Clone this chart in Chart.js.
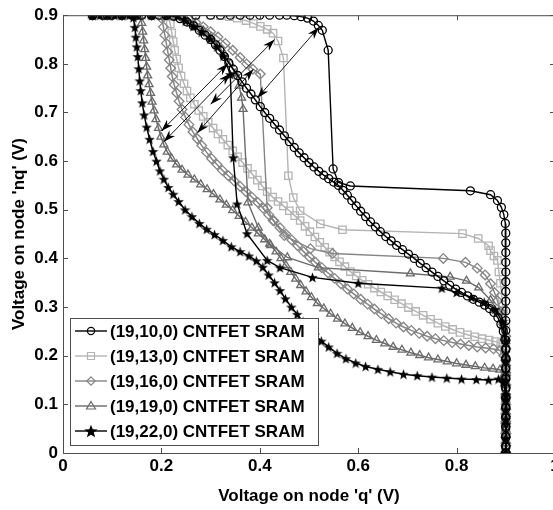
<!DOCTYPE html>
<html>
<head>
<meta charset="utf-8">
<script src="https://cdn.jsdelivr.net/npm/chart.js@4.4.0/dist/chart.umd.min.js"></script>
<style>
  html, body { margin: 0; padding: 0; background: #fff; overflow: hidden; }
  canvas { display: block; }
</style>
</head>
<body>
<canvas id="snm-chart" width="575" height="510"></canvas>
<script>
var seriesNames = ['(19,10,0) CNTFET SRAM', '(19,13,0) CNTFET SRAM', '(19,16,0) CNTFET SRAM', '(19,19,0) CNTFET SRAM', '(19,22,0) CNTFET SRAM'];
var xTicks = [0, 0.2, 0.4, 0.6, 0.8, 1];
var yTicks = [0, 0.1, 0.2, 0.3, 0.4, 0.5, 0.6, 0.7, 0.8, 0.9];

// butterfly curves, [q, nq] pairs
var c10Smooth = [[0.06,0.9],[0.08,0.9],[0.1,0.9],[0.12,0.9],[0.14,0.9],[0.16,0.9],[0.18,0.9],[0.195,0.9],[0.21,0.9],[0.225,0.898],[0.238,0.893],[0.252,0.886],[0.265,0.878],[0.277,0.869],[0.289,0.859],[0.3,0.85],[0.31,0.839],[0.319,0.828],[0.328,0.815],[0.337,0.802],[0.346,0.789],[0.355,0.776],[0.364,0.763],[0.373,0.75],[0.382,0.738],[0.391,0.726],[0.401,0.712],[0.41,0.7],[0.42,0.688],[0.43,0.676],[0.44,0.664],[0.45,0.652],[0.46,0.64],[0.47,0.628],[0.48,0.617],[0.49,0.607],[0.5,0.597],[0.51,0.588],[0.52,0.579],[0.53,0.571],[0.54,0.564],[0.55,0.557],[0.56,0.55],[0.569,0.54],[0.578,0.53],[0.587,0.519],[0.596,0.508],[0.605,0.497],[0.615,0.486],[0.625,0.475],[0.635,0.465],[0.645,0.455],[0.656,0.445],[0.667,0.436],[0.678,0.427],[0.69,0.418],[0.702,0.409],[0.714,0.4],[0.726,0.39],[0.738,0.381],[0.75,0.372],[0.762,0.363],[0.774,0.354],[0.786,0.345],[0.798,0.337],[0.81,0.33],[0.822,0.323],[0.834,0.316],[0.846,0.31],[0.857,0.304],[0.867,0.297],[0.876,0.289],[0.884,0.278],[0.89,0.265],[0.895,0.25],[0.898,0.233],[0.9,0.215],[0.9,0.195],[0.9,0.175],[0.9,0.155],[0.9,0.135],[0.9,0.115],[0.9,0.095],[0.9,0.075],[0.9,0.055],[0.9,0.035],[0.9,0.015],[0.9,0]];
var c10Sharp = [[0.06,0.9],[0.09,0.9],[0.12,0.9],[0.15,0.9],[0.18,0.9],[0.21,0.9],[0.24,0.9],[0.27,0.9],[0.3,0.9],[0.32,0.9],[0.34,0.9],[0.36,0.9],[0.38,0.9],[0.4,0.9],[0.42,0.9],[0.44,0.9],[0.455,0.9],[0.47,0.899],[0.484,0.897],[0.497,0.894],[0.509,0.888],[0.519,0.879],[0.527,0.869],[0.539,0.828],[0.549,0.584],[0.56,0.556],[0.584,0.549],[0.828,0.539],[0.869,0.531],[0.883,0.519],[0.891,0.505],[0.896,0.49],[0.899,0.472],[0.9,0.452],[0.9,0.432],[0.9,0.412],[0.9,0.392],[0.9,0.372],[0.9,0.352],[0.9,0.332],[0.9,0.312],[0.9,0.292],[0.9,0.272],[0.9,0.252],[0.9,0.232],[0.9,0.212],[0.9,0.192],[0.9,0.172],[0.9,0.152],[0.9,0.132],[0.9,0.112],[0.9,0.092],[0.9,0.072],[0.9,0.052],[0.9,0.032],[0.9,0.012],[0.9,0]];

var c13Smooth = [[0.06,0.9],[0.08,0.9],[0.1,0.9],[0.12,0.9],[0.14,0.9],[0.16,0.9],[0.18,0.9],[0.2,0.9],[0.214,0.898],[0.218,0.882],[0.221,0.864],[0.224,0.846],[0.227,0.828],[0.231,0.81],[0.235,0.792],[0.24,0.775],[0.246,0.759],[0.252,0.744],[0.259,0.73],[0.267,0.717],[0.276,0.704],[0.285,0.692],[0.295,0.68],[0.305,0.668],[0.315,0.656],[0.325,0.645],[0.335,0.633],[0.345,0.621],[0.355,0.609],[0.365,0.597],[0.375,0.585],[0.385,0.573],[0.395,0.561],[0.405,0.549],[0.415,0.537],[0.426,0.526],[0.437,0.517],[0.448,0.508],[0.46,0.498],[0.471,0.488],[0.482,0.478],[0.492,0.466],[0.502,0.455],[0.512,0.444],[0.522,0.433],[0.532,0.423],[0.542,0.413],[0.552,0.403],[0.562,0.393],[0.573,0.383],[0.584,0.373],[0.596,0.364],[0.608,0.355],[0.62,0.347],[0.633,0.339],[0.646,0.331],[0.66,0.323],[0.674,0.315],[0.688,0.307],[0.702,0.299],[0.717,0.291],[0.732,0.283],[0.747,0.275],[0.762,0.267],[0.777,0.26],[0.792,0.254],[0.807,0.248],[0.822,0.243],[0.837,0.239],[0.852,0.235],[0.866,0.232],[0.879,0.229],[0.89,0.225],[0.897,0.21],[0.9,0.19],[0.9,0.17],[0.9,0.15],[0.9,0.13],[0.9,0.11],[0.9,0.09],[0.9,0.07],[0.9,0.05],[0.9,0.03],[0.9,0.01],[0.9,0]];
var c13Sharp = [[0.06,0.9],[0.09,0.9],[0.12,0.9],[0.15,0.9],[0.18,0.9],[0.21,0.9],[0.24,0.9],[0.27,0.9],[0.3,0.9],[0.32,0.899],[0.338,0.897],[0.354,0.894],[0.372,0.889],[0.387,0.883],[0.401,0.877],[0.415,0.871],[0.427,0.863],[0.437,0.847],[0.448,0.812],[0.458,0.57],[0.468,0.525],[0.482,0.498],[0.523,0.471],[0.568,0.459],[0.812,0.451],[0.844,0.441],[0.865,0.426],[0.869,0.416],[0.876,0.405],[0.883,0.396],[0.886,0.372],[0.889,0.349],[0.892,0.32],[0.895,0.293],[0.9,0.265],[0.9,0.24],[0.9,0.215],[0.9,0.19],[0.9,0.165],[0.9,0.14],[0.9,0.115],[0.9,0.09],[0.9,0.065],[0.9,0.04],[0.9,0.015],[0.9,0]];

var c16Smooth = [[0.06,0.9],[0.08,0.9],[0.1,0.9],[0.12,0.9],[0.14,0.9],[0.16,0.9],[0.18,0.9],[0.195,0.9],[0.201,0.893],[0.204,0.876],[0.207,0.859],[0.21,0.842],[0.213,0.825],[0.216,0.808],[0.219,0.791],[0.222,0.774],[0.226,0.757],[0.231,0.74],[0.236,0.723],[0.242,0.706],[0.249,0.69],[0.256,0.675],[0.264,0.66],[0.273,0.646],[0.282,0.632],[0.292,0.618],[0.302,0.605],[0.313,0.593],[0.324,0.581],[0.336,0.57],[0.348,0.559],[0.36,0.548],[0.372,0.537],[0.384,0.526],[0.396,0.515],[0.407,0.503],[0.418,0.49],[0.429,0.477],[0.441,0.463],[0.453,0.45],[0.465,0.438],[0.477,0.426],[0.489,0.414],[0.501,0.403],[0.513,0.392],[0.526,0.381],[0.539,0.37],[0.552,0.359],[0.565,0.348],[0.578,0.337],[0.591,0.327],[0.605,0.316],[0.619,0.306],[0.633,0.296],[0.647,0.286],[0.662,0.276],[0.677,0.267],[0.692,0.259],[0.708,0.252],[0.724,0.246],[0.74,0.24],[0.757,0.235],[0.774,0.231],[0.791,0.227],[0.808,0.224],[0.825,0.221],[0.842,0.218],[0.859,0.216],[0.875,0.214],[0.888,0.211],[0.896,0.2],[0.9,0.18],[0.9,0.16],[0.9,0.14],[0.9,0.12],[0.9,0.1],[0.9,0.08],[0.9,0.06],[0.9,0.04],[0.9,0.02],[0.9,0]];
var c16Sharp = [[0.06,0.9],[0.09,0.9],[0.12,0.9],[0.15,0.9],[0.18,0.9],[0.205,0.9],[0.225,0.899],[0.24,0.897],[0.255,0.892],[0.27,0.885],[0.285,0.876],[0.3,0.866],[0.315,0.855],[0.33,0.842],[0.345,0.828],[0.36,0.813],[0.373,0.8],[0.386,0.789],[0.401,0.779],[0.415,0.504],[0.427,0.478],[0.45,0.447],[0.503,0.42],[0.548,0.41],[0.773,0.4],[0.818,0.392],[0.842,0.38],[0.858,0.366],[0.869,0.348],[0.877,0.33],[0.883,0.313],[0.89,0.29],[0.895,0.265],[0.9,0.24],[0.9,0.215],[0.9,0.19],[0.9,0.165],[0.9,0.14],[0.9,0.115],[0.9,0.09],[0.9,0.065],[0.9,0.04],[0.9,0.015],[0.9,0]];

var c19Smooth = [[0.06,0.9],[0.08,0.9],[0.1,0.9],[0.12,0.9],[0.14,0.9],[0.155,0.899],[0.16,0.884],[0.162,0.866],[0.164,0.848],[0.166,0.83],[0.168,0.812],[0.17,0.794],[0.172,0.776],[0.175,0.758],[0.178,0.74],[0.181,0.722],[0.185,0.704],[0.189,0.686],[0.194,0.668],[0.199,0.65],[0.205,0.634],[0.212,0.619],[0.221,0.605],[0.231,0.593],[0.242,0.582],[0.254,0.572],[0.267,0.562],[0.28,0.552],[0.293,0.542],[0.306,0.532],[0.319,0.521],[0.332,0.51],[0.345,0.499],[0.358,0.487],[0.371,0.475],[0.384,0.463],[0.397,0.451],[0.41,0.439],[0.422,0.427],[0.433,0.414],[0.443,0.4],[0.453,0.386],[0.463,0.372],[0.473,0.358],[0.483,0.345],[0.494,0.332],[0.505,0.32],[0.517,0.308],[0.53,0.297],[0.544,0.286],[0.558,0.276],[0.573,0.266],[0.588,0.257],[0.604,0.248],[0.62,0.24],[0.637,0.232],[0.654,0.225],[0.671,0.218],[0.689,0.212],[0.707,0.206],[0.725,0.201],[0.743,0.196],[0.762,0.192],[0.781,0.188],[0.8,0.184],[0.819,0.181],[0.838,0.178],[0.857,0.175],[0.874,0.173],[0.888,0.171],[0.896,0.16],[0.9,0.14],[0.9,0.12],[0.9,0.1],[0.9,0.08],[0.9,0.06],[0.9,0.04],[0.9,0.02],[0.9,0]];
var c19Sharp = [[0.06,0.9],[0.09,0.9],[0.12,0.9],[0.15,0.9],[0.18,0.9],[0.21,0.9],[0.23,0.899],[0.25,0.892],[0.268,0.881],[0.285,0.868],[0.3,0.854],[0.315,0.838],[0.328,0.82],[0.34,0.8],[0.35,0.78],[0.358,0.755],[0.363,0.73],[0.366,0.707],[0.376,0.515],[0.397,0.463],[0.42,0.43],[0.456,0.402],[0.519,0.381],[0.706,0.369],[0.787,0.362],[0.82,0.354],[0.845,0.34],[0.869,0.314],[0.885,0.29],[0.895,0.26],[0.9,0.23],[0.9,0.2],[0.9,0.17],[0.9,0.14],[0.9,0.11],[0.9,0.08],[0.9,0.05],[0.9,0.02],[0.9,0]];

var c22Smooth = [[0.06,0.9],[0.075,0.9],[0.09,0.9],[0.105,0.9],[0.12,0.9],[0.135,0.9],[0.143,0.895],[0.146,0.875],[0.148,0.855],[0.15,0.835],[0.152,0.815],[0.154,0.79],[0.156,0.765],[0.158,0.745],[0.161,0.72],[0.165,0.695],[0.17,0.67],[0.176,0.645],[0.183,0.62],[0.19,0.6],[0.197,0.58],[0.205,0.563],[0.214,0.546],[0.224,0.532],[0.235,0.517],[0.248,0.5],[0.262,0.486],[0.277,0.472],[0.292,0.46],[0.308,0.449],[0.325,0.437],[0.342,0.424],[0.36,0.414],[0.378,0.405],[0.393,0.395],[0.406,0.382],[0.418,0.366],[0.43,0.35],[0.441,0.334],[0.452,0.317],[0.464,0.3],[0.476,0.285],[0.488,0.27],[0.5,0.256],[0.512,0.243],[0.525,0.23],[0.54,0.218],[0.557,0.205],[0.575,0.194],[0.595,0.185],[0.615,0.178],[0.64,0.172],[0.665,0.167],[0.692,0.162],[0.72,0.159],[0.75,0.156],[0.78,0.154],[0.81,0.152],[0.84,0.151],[0.865,0.15],[0.885,0.152],[0.895,0.145],[0.9,0.12],[0.9,0.09],[0.9,0.06],[0.9,0.03],[0.9,0]];
var c22Sharp = [[0.06,0.9],[0.09,0.9],[0.12,0.9],[0.15,0.9],[0.18,0.9],[0.21,0.9],[0.232,0.898],[0.249,0.888],[0.265,0.877],[0.282,0.865],[0.299,0.851],[0.313,0.835],[0.326,0.816],[0.34,0.778],[0.346,0.607],[0.354,0.512],[0.374,0.451],[0.415,0.396],[0.441,0.381],[0.507,0.361],[0.6,0.349],[0.77,0.339],[0.8,0.33],[0.83,0.32],[0.856,0.31],[0.878,0.295],[0.893,0.27],[0.9,0.23],[0.9,0.19],[0.9,0.15],[0.9,0.11],[0.9,0.07],[0.9,0.03],[0.9,0]];

// noise margin diagonals: [q1, nq1, q2, nq2]
var marginArrows = [[0.395,0.73,0.52,0.875],[0.3,0.717,0.43,0.85],[0.273,0.658,0.387,0.789],[0.2,0.662,0.335,0.8],[0.205,0.64,0.34,0.78]];

var curves = [[c10Smooth, c10Sharp], [c13Smooth, c13Sharp], [c16Smooth, c16Sharp], [c19Smooth, c19Sharp], [c22Smooth, c22Sharp]];
var colors = ['#000000', '#b4b4b4', '#858585', '#6b6b6b', '#000000'];
var markers = ['circle', 'rect', 'rectRot', 'triangle', 'star'];
var markerRadius = [4, 5.2, 4.8, 4.6, 5];
var drawOrder = [0, 4, 3, 2, 1];
var FONT = "'Liberation Sans', Arial, Helvetica, sans-serif";

function makeStar(size, color) {
    var c = document.createElement('canvas');
    c.width = size; c.height = size;
    var g = c.getContext('2d');
    var R = size / 2, r = R * 0.42;
    g.beginPath();
    for (var i = 0; i < 10; i++) {
        var rad = i % 2 ? r : R;
        var a = -Math.PI / 2 + i * Math.PI / 5;
        g.lineTo(R + rad * Math.cos(a), R + rad * Math.sin(a) + size * 0.05);
    }
    g.closePath();
    g.fillStyle = color;
    g.fill();
    return c;
}
var starImg = makeStar(11, '#000');
var starLegend = makeStar(14, '#000');

var datasets = [];
curves.forEach(function(pair, i) {
    pair.forEach(function(pts, k) {
        datasets.push({
            label: seriesNames[i],
            data: pts,
            showLine: true,
            borderColor: colors[i],
            borderWidth: k === 0 ? 1.5 : 1.4,
            pointStyle: markers[i] === 'star' ? starImg : markers[i],
            pointRadius: markerRadius[i],
            pointBorderColor: colors[i],
            pointBackgroundColor: 'rgba(0,0,0,0)',
            pointBorderWidth: 1.3,
            tension: 0,
            order: drawOrder[i]
        });
    });
});

function drawMarker(ctx, kind, x, y, color) {
    ctx.save();
    ctx.strokeStyle = color;
    ctx.lineWidth = 1.2;
    ctx.beginPath();
    if (kind === 'circle') {
        ctx.arc(x, y, 3.6, 0, Math.PI * 2);
    } else if (kind === 'rect') {
        ctx.rect(x - 3.5, y - 3.5, 7, 7);
    } else if (kind === 'rectRot') {
        ctx.moveTo(x, y - 4.2); ctx.lineTo(x + 4.2, y); ctx.lineTo(x, y + 4.2); ctx.lineTo(x - 4.2, y); ctx.closePath();
    } else if (kind === 'triangle') {
        ctx.moveTo(x, y - 4.5); ctx.lineTo(x + 4.5, y + 3); ctx.lineTo(x - 4.5, y + 3); ctx.closePath();
    }
    ctx.stroke();
    if (kind === 'star') ctx.drawImage(starLegend, x - 7, y - 7);
    ctx.restore();
}

// frame, inward ticks, margin arrows and legend box
var decorations = {
    id: 'decorations',
    afterDatasetsDraw: function(chart) {
        var ctx = chart.ctx, a = chart.chartArea;
        var xs = chart.scales.x, ys = chart.scales.y;
        ctx.save();

        // diagonals with arrow heads
        ctx.strokeStyle = '#000';
        ctx.fillStyle = '#000';
        ctx.lineWidth = 0.9;
        marginArrows.forEach(function(m) {
            var x1 = xs.getPixelForValue(m[0]), y1 = ys.getPixelForValue(m[1]);
            var x2 = xs.getPixelForValue(m[2]), y2 = ys.getPixelForValue(m[3]);
            ctx.beginPath(); ctx.moveTo(x1, y1); ctx.lineTo(x2, y2); ctx.stroke();
            [[x1, y1, x2, y2], [x2, y2, x1, y1]].forEach(function(e) {
                var ang = Math.atan2(e[1] - e[3], e[0] - e[2]);
                var len = 12, w = 4;
                ctx.beginPath();
                ctx.moveTo(e[0], e[1]);
                ctx.lineTo(e[0] - len * Math.cos(ang) + w * Math.sin(ang), e[1] - len * Math.sin(ang) - w * Math.cos(ang));
                ctx.lineTo(e[0] - len * 0.7 * Math.cos(ang), e[1] - len * 0.7 * Math.sin(ang));
                ctx.lineTo(e[0] - len * Math.cos(ang) - w * Math.sin(ang), e[1] - len * Math.sin(ang) + w * Math.cos(ang));
                ctx.closePath();
                ctx.fill();
            });
        });

        // axes box and inward ticks
        ctx.strokeStyle = '#4d4d4d';
        ctx.lineWidth = 1;
        ctx.strokeRect(a.left + 0.5, a.top + 0.5, a.right - a.left, a.bottom - a.top);
        ctx.beginPath();
        xTicks.forEach(function(v) {
            var px = Math.round(xs.getPixelForValue(v)) + 0.5;
            ctx.moveTo(px, a.bottom); ctx.lineTo(px, a.bottom - 5);
            ctx.moveTo(px, a.top); ctx.lineTo(px, a.top + 5);
        });
        yTicks.forEach(function(v) {
            var py = Math.round(ys.getPixelForValue(v)) + 0.5;
            ctx.moveTo(a.left, py); ctx.lineTo(a.left + 5, py);
            ctx.moveTo(a.right, py); ctx.lineTo(a.right - 5, py);
        });
        ctx.stroke();

        // legend
        var lx = a.left + 7, lw = 248, lh = 127, ly = a.bottom - 8 - lh;
        ctx.fillStyle = '#fff';
        ctx.fillRect(lx, ly, lw, lh);
        ctx.strokeStyle = '#4d4d4d';
        ctx.lineWidth = 1;
        ctx.strokeRect(lx + 0.5, ly + 0.5, lw, lh);
        ctx.font = 'bold 17px ' + FONT;
        ctx.textBaseline = 'middle';
        seriesNames.forEach(function(name, i) {
            var cy = ly + 13 + i * 25;
            ctx.strokeStyle = colors[i];
            ctx.lineWidth = 1.4;
            ctx.beginPath(); ctx.moveTo(lx + 5, cy); ctx.lineTo(lx + 37, cy); ctx.stroke();
            drawMarker(ctx, markers[i], lx + 21, cy, colors[i]);
            ctx.fillStyle = '#000';
            ctx.fillText(name, lx + 40, cy + 1);
        });
        ctx.restore();
    }
};

var ctx = document.getElementById('snm-chart').getContext('2d');
new Chart(ctx, {
    type: 'scatter',
    data: { datasets: datasets },
    options: {
        responsive: false,
        animation: false,
        devicePixelRatio: 1,
        layout: { padding: { top: 14, right: 20, bottom: 0, left: 0 } },
        plugins: {
            legend: { display: false },
            tooltip: { enabled: false }
        },
        scales: {
            x: {
                type: 'linear',
                min: 0,
                max: 1,
                afterBuildTicks: function(axis) { axis.ticks = xTicks.map(function(v) { return { value: v }; }); },
                afterFit: function(axis) { axis.height = 57; },
                grid: { display: false, drawTicks: false },
                border: { display: false },
                ticks: { color: '#000', padding: 3, font: { family: FONT, size: 17, weight: 'bold' }, maxRotation: 0,
                         callback: function(v) { return String(v); } },
                title: { display: true, text: "Voltage on node 'q' (V)", color: '#000', padding: { top: 0, bottom: 3 },
                         font: { family: FONT, size: 17, weight: 'bold' } }
            },
            y: {
                type: 'linear',
                min: 0,
                max: 0.9,
                afterBuildTicks: function(axis) { axis.ticks = yTicks.map(function(v) { return { value: v }; }); },
                afterFit: function(axis) { axis.width = 63; },
                grid: { display: false, drawTicks: false },
                border: { display: false },
                ticks: { color: '#000', padding: 5, font: { family: FONT, size: 17, weight: 'bold' },
                         callback: function(v) { return String(v); } },
                title: { display: true, text: "Voltage on node 'nq' (V)", color: '#000', padding: { top: 9, bottom: 0 },
                         font: { family: FONT, size: 17, weight: 'bold' } }
            }
        }
    },
    plugins: [decorations]
});
</script>
</body>
</html>
